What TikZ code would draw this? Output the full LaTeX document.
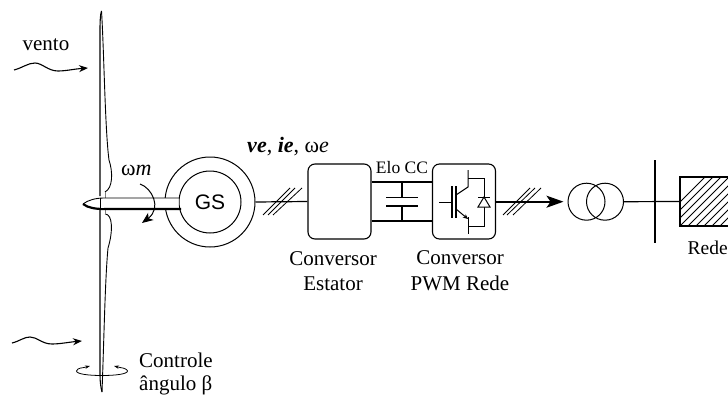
\documentclass[tikz,border=0pt]{standalone}
\usepackage{fontspec}
\setmainfont{Liberation Serif}
\newfontfamily\gsfont{Liberation Sans}
\usetikzlibrary{arrows.meta}
\tikzset{
  lbl/.style={inner sep=0pt,font=\fontsize{21}{23}\selectfont,align=center},
  conv/.style={draw,line width=1.1pt,rounded corners=7pt,minimum width=63pt,minimum height=75pt,inner sep=0pt},
  wire/.style={line width=1.2pt},
  ring/.style={draw,circle,line width=1pt,inner sep=0pt},
  slash/.style={line width=0.8pt},
  windarrow/.style={line width=1.1pt,-{Stealth[length=9pt,width=7pt]}},
}
\begin{document}
\begin{tikzpicture}[x=1pt,y=-1pt]
\useasboundingbox[fill=white] (0,0) rectangle (728,396);
% blade
\draw[line width=1.1pt] (100,196) -- (100,30) .. controls (100,20) and (100.5,14) .. (101.5,11);
\draw[line width=0.9pt] (101.5,11) .. controls (104,50) and (105,130) .. (109,160) .. controls (113,172) and (113,188) .. (105,192);
\draw[line width=1.1pt] (100,209) -- (100,375) .. controls (100,382) and (101,388) .. (102,392);
\draw[line width=0.9pt] (102,392) .. controls (104,340) and (105,280) .. (108,248) .. controls (113,232) and (113,214) .. (105,214);
\draw[gray,line width=0.9pt] (105,192) -- (105,198) (105,209) -- (105,215);
% generator
\node[ring,minimum size=90pt] (gout) at (210,202) {};
\node[ring,minimum size=62pt,fill=white] (gin) at (210,202) {};
% shaft
\coordinate (nose) at (83,204);
\fill[white] (nose) .. controls (88,200) and (96,198) .. (104,198) -- (gin.west |- 0,198) -- (gin.west |- 0,209) -- (104,209) .. controls (96,209) and (88,208) .. (nose) -- cycle;
\draw[line width=0.9pt] (nose) .. controls (88,200) and (96,198) .. (104,198) -- (179.6,198);
\draw[line width=2.2pt] (nose) .. controls (88,208) and (96,209) .. (104,209) -- (181,209);
\draw[line width=1pt] (100,198) -- (100,209);
\fill[white] (101,199) rectangle (104,207.5);
\node[inner sep=0pt,font=\gsfont\fontsize{21}{23}\selectfont] (gs) at (210,202) {GS};
% rotation arrow
\coordinate (wa) at (140,184);
\coordinate (wb) at (142,223);
\draw[line width=1pt,-{Stealth[length=11pt,width=9pt,inset=3pt]}] (wa) .. controls (152,188) and (162,208) .. (wb);
\node[lbl,anchor=west] (wm) at (121,170) {\fontsize{22}{23}\selectfont ω\textit{m}};
% converters
\node[conv] (c1) at (339.5,201.5) {};
\node[conv] (c2) at (464,201.5) {};
\coordinate (c1t) at (c1.east |- 0,182);
\coordinate (c2t) at (c2.west |- 0,182);
\coordinate (c1b) at (c1.east |- 0,221);
\coordinate (c2b) at (c2.west |- 0,221);
\draw[wire] (c1t) -- (c2t) (c1b) -- (c2b);
\coordinate (capt) at (402,182);
\coordinate (capb) at (402,221);
\draw[wire] (capt) -- (402,197) (capb) -- (402,206);
\draw[line width=1pt] (386,197) -- (418,197);
\draw[line width=1.6pt] (386,206) -- (418,206);
% line gen -> conv1
\draw[wire] (gout.east) -- (c1.west);
\foreach \a/\b/\c/\d in {263/215/290/188,268/215/295/188,273/215/302/188}
  \draw[slash] (\a,\b) -- (\c,\d);
% IGBT
\begin{scope}[line width=1pt]
\draw (439,202) -- (452,202);
\draw[line width=1.2pt] (452,186) -- (452,218);
\draw[line width=1.2pt] (456,186) -- (456,218);
\draw (456,195) -- (468,187) -- (468,170);
\draw[-{Stealth[length=5pt,width=4.5pt]}] (456,209) -- (468,219);
\draw (468,217) -- (468,234);
\draw (468,178) -- (484,178) -- (484,226) -- (468,226);
\draw[fill=white] (478,207) -- (490,207) -- (484,197) -- cycle;
\draw (478,197) -- (490,197);
\end{scope}
% output
\node[ring,minimum size=37pt] (t1) at (586.5,201.7) {};
\node[ring,minimum size=37pt] (t2) at (605,201.7) {};
\draw[line width=1.7pt,-{Stealth[length=17pt,width=12pt,inset=4pt]}] (c2.east |- t1.west) -- ([xshift=-4pt]t1.west);
\foreach \a/\b/\c/\d in {503/215/530/188,507/215/535/188,513/215/541/188}
  \draw[slash] (\a,\b) -- (\c,\d);
% bus and grid
\coordinate (bust) at (655,160);
\coordinate (busb) at (655,243);
\draw[line width=2.4pt] (bust) -- (busb);
\node[minimum width=60pt,minimum height=49pt,inner sep=0pt] (grid) at (710,201.5) {};
\begin{scope}
\clip (680,177) rectangle (728,226);
\foreach \i in {0,...,14}
  \draw[line width=0.8pt] (650+\i*8,232) -- (710+\i*8,172);
\end{scope}
\draw[line width=1.1pt] (740,177) -- (680,177) -- (680,226) -- (740,226);
\draw[wire] (t2.east) -- (grid.west);
% wind
\coordinate (w1s) at (14,70);
\coordinate (w1e) at (88,68);
\coordinate (w2s) at (12,343);
\coordinate (w2e) at (82,341);
\draw[windarrow] (w1s) .. controls (22,68) and (28,63) .. (35,63) .. controls (42,63) and (48,71) .. (58,71) .. controls (66,71) and (74,69) .. (w1e);
\draw[windarrow] (w2s) .. controls (20,341) and (24,337) .. (30,337) .. controls (37,337) and (42,344) .. (52,344) .. controls (60,344) and (70,342) .. (w2e);
% pitch
\coordinate (pa) at (90,366);
\coordinate (pb) at (114,366);
\draw[line width=0.8pt] (84,367.5) .. controls (78,368) and (76.5,370) .. (76.5,371) .. controls (76.5,374) and (88,375.5) .. (102,375.5);
\draw[line width=0.8pt,{Stealth[length=5pt,width=3.5pt]}-] (pa) -- (84,367.5);
\draw[line width=0.8pt,{Stealth[length=5pt,width=3.5pt]}-] (pb) -- (120,367.5) .. controls (125,368) and (127.5,370) .. (127.5,371) .. controls (127.5,374) and (116,375.5) .. (102,375.5);
% labels
\node[lbl] (vento) at (46,45) {vento};
\node[lbl,anchor=west] (ctrl) at (139,360) {Controle};
\node[lbl,anchor=west] (ang) at (139,385) {ângulo β};
\node[lbl] (vars) at (288,147) {\fontsize{22}{23}\selectfont\textbf{\textit{v}}\textit{\textbf{e}}, \textbf{\textit{i}}\textit{\textbf{e}}, ω\textit{e}};
\node[lbl] (elo) at (402,168) {\fontsize{17.5}{19}\selectfont Elo CC};
\node[lbl] (l1) at (333,259) {Conversor};
\node[lbl] (l2) at (333,284) {Estator};
\node[lbl] (l3) at (460,258) {Conversor};
\node[lbl] (l4) at (460,283) {PWM Rede};
\node[lbl,anchor=west] (rede) at (687.5,248) {\fontsize{19.5}{21}\selectfont Rede};
\end{tikzpicture}
\end{document}
